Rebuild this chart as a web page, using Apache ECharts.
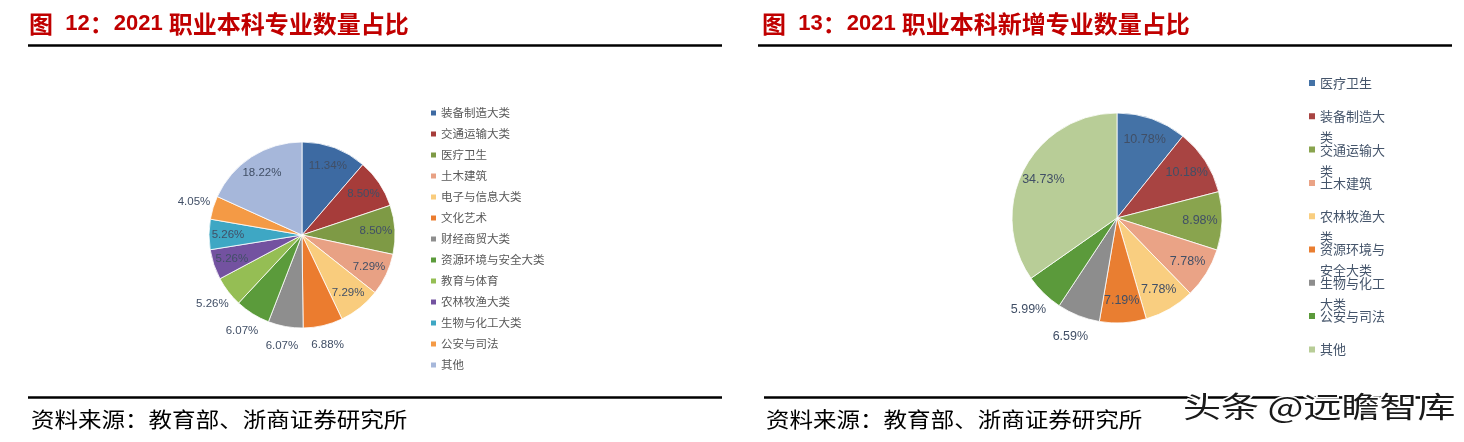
<!DOCTYPE html>
<html>
<head>
<meta charset="utf-8">
<script src="https://cdn.jsdelivr.net/npm/echarts@6/dist/echarts.min.js"></script>
<style>
html,body{margin:0;padding:0;background:#fff;}
#chart{width:1464px;height:442px;}
</style>
</head>
<body>
<div id="chart"></div>
<script>
// ---- data ----
const leftTitle = '2021 职业本科专业数量占比';
const rightTitle = '2021 职业本科新增专业数量占比';
const sourceText = '资料来源：教育部、浙商证券研究所';
const watermarkText = '头条 @远瞻智库';

const leftCategories = ['装备制造大类','交通运输大类','医疗卫生','土木建筑','电子与信息大类','文化艺术','财经商贸大类','资源环境与安全大类','教育与体育','农林牧渔大类','生物与化工大类','公安与司法','其他'];
const leftValues = [11.34, 8.50, 8.50, 7.29, 7.29, 6.88, 6.07, 6.07, 5.26, 5.26, 5.26, 4.05, 18.22];

const rightCategories = ['医疗卫生','装备制造大类','交通运输大类','土木建筑','农林牧渔大类','资源环境与安全大类','生物与化工大类','公安与司法','其他'];
const rightValues = [10.78, 10.18, 8.98, 7.78, 7.78, 7.19, 6.59, 5.99, 34.73];

// ---- styles ----
const leftColors = ['#3D6AA2','#A63C3A','#7E9A45','#E8A184','#F9CC7D','#EB7C2F','#8E8E8E','#5B9B3B','#95BE54','#7352A0','#3EA7C4','#F49A45','#A6B7DA'];
const rightColors = ['#4472A6','#A84442','#89A44E','#EAA386','#F9CE80','#E97E31','#8D8D8D','#5B9A3B','#B8CD97'];
const leftOutside = new Set([5, 6, 7, 8, 11]);
const rightOutside = new Set([6, 7]);
const RIGHT_WRAP = 5; // characters per line in the narrow right legend

const labelColor = '#414F66';
const fmt = p => p.value.toFixed(2) + '%';

function mainPie(cats, vals, colors, center, r) {
  return {
    type: 'pie', center: center, radius: [0, r], startAngle: 90, clockwise: true,
    silent: true, animation: false, avoidLabelOverlap: false,
    label: { show: false }, labelLine: { show: false },
    itemStyle: { borderColor: '#fff', borderWidth: 0.8 },
    data: cats.map((n, i) => ({ name: n, value: vals[i], itemStyle: { color: colors[i] } }))
  };
}
function labelPie(cats, vals, center, r0, r1, showFn, fontSize) {
  return {
    type: 'pie', center: center, radius: [r0, r1], startAngle: 90, clockwise: true,
    silent: true, animation: false, avoidLabelOverlap: false,
    itemStyle: { color: 'rgba(0,0,0,0)', borderWidth: 0 },
    labelLine: { show: false },
    emphasis: { disabled: true },
    label: { position: 'inside', formatter: fmt, color: labelColor, fontSize: fontSize,
             fontFamily: 'Liberation Sans, Arial, sans-serif' },
    data: cats.map((n, i) => ({ name: n, value: vals[i], label: { show: showFn(i) } }))
  };
}

const LC = [302, 235], LR = 93;
const RC = [1117, 218], RR = 105;

// right legend: each entry is a fixed 44px box (two 21px text lines centred in it),
// the square marker sits beside the first line, entries step 33.3px.
const R_BOX = 44, R_LINEH = 21, R_STEP = 33.3;
const sqTop = R_BOX / 2 - R_LINEH / 2 - 3;
const rightIcon = 'path://M0,0L0.01,0M0,' + sqTop + 'L6,' + sqTop + 'L6,' + (sqTop + 6) + 'L0,' + (sqTop + 6) + 'ZM0,' + R_BOX + 'L0.01,' + R_BOX;

const option = {
  backgroundColor: '#fff',
  animation: false,
  legend: [
    {
      orient: 'vertical', left: 431, top: 106, padding: 0, itemGap: 7,
      icon: 'rect', itemWidth: 5, itemHeight: 5, selectedMode: false,
      textStyle: { fontSize: 11.5, color: '#595959', fontFamily: 'Noto Sans CJK SC', lineHeight: 14 },
      data: leftCategories.map((n, i) => ({ name: n, itemStyle: { color: leftColors[i], borderWidth: 0 } }))
    },
    {
      orient: 'vertical', left: 1309, top: 83 - (sqTop + 3), height: 390, padding: 0, itemGap: R_STEP - R_BOX,
      icon: rightIcon, itemWidth: 6, itemHeight: R_BOX, selectedMode: false,
      formatter: function (name) {
        return name.length > RIGHT_WRAP ? name.slice(0, RIGHT_WRAP) + '\n' + name.slice(RIGHT_WRAP) : name + '\n';
      },
      textStyle: { fontSize: 13, color: '#44546A', fontFamily: 'Noto Sans CJK SC', lineHeight: R_LINEH },
      data: rightCategories.map((n, i) => ({ name: n, itemStyle: { color: rightColors[i], borderWidth: 0 } }))
    }
  ],
  series: [
    mainPie(leftCategories, leftValues, leftColors, LC, LR),
    mainPie(rightCategories, rightValues, rightColors, RC, RR),
    labelPie(leftCategories, leftValues, LC, 49, LR, i => !leftOutside.has(i), 11.5),
    labelPie(leftCategories, leftValues, LC, LR, 127, i => leftOutside.has(i), 11.5),
    labelPie(rightCategories, rightValues, RC, 55, RR, i => !rightOutside.has(i), 12.5),
    labelPie(rightCategories, rightValues, RC, RR, 143, i => rightOutside.has(i), 12.5)
  ],
  graphic: [
    { type: 'text', x: 29, y: 24, style: {
        text: '{c|图}{n|  12}{c|：}{n|' + leftTitle.split(' ')[0] + ' }{c|' + leftTitle.split(' ')[1] + '}',
        verticalAlign: 'middle',
        rich: {
          c: { fontFamily: 'Noto Sans CJK SC', fontSize: 24, fontWeight: 'bold', fill: '#C00000' },
          n: { fontFamily: 'Liberation Sans', fontSize: 22, fontWeight: 'bold', fill: '#C00000' }
        } } },
    { type: 'text', x: 762, y: 24, style: {
        text: '{c|图}{n|  13}{c|：}{n|' + rightTitle.split(' ')[0] + ' }{c|' + rightTitle.split(' ')[1] + '}',
        verticalAlign: 'middle',
        rich: {
          c: { fontFamily: 'Noto Sans CJK SC', fontSize: 24, fontWeight: 'bold', fill: '#C00000' },
          n: { fontFamily: 'Liberation Sans', fontSize: 22, fontWeight: 'bold', fill: '#C00000' }
        } } },
    { type: 'line', shape: { x1: 28, y1: 45.5, x2: 722, y2: 45.5 }, style: { stroke: '#000', lineWidth: 2.5 } },
    { type: 'line', shape: { x1: 758, y1: 45.5, x2: 1452, y2: 45.5 }, style: { stroke: '#000', lineWidth: 2.5 } },
    { type: 'line', shape: { x1: 28, y1: 397.5, x2: 722, y2: 397.5 }, style: { stroke: '#000', lineWidth: 2.5 } },
    { type: 'line', shape: { x1: 764, y1: 397.5, x2: 1455, y2: 397.5 }, style: { stroke: '#000', lineWidth: 2.5 } },
    { type: 'text', x: 31, y: 419, scaleX: 1.12, style: { text: sourceText, fontFamily: 'Noto Sans CJK SC', fontSize: 21, fill: '#000', verticalAlign: 'middle' } },
    { type: 'text', x: 766, y: 419, scaleX: 1.12, style: { text: sourceText, fontFamily: 'Noto Sans CJK SC', fontSize: 21, fill: '#000', verticalAlign: 'middle' } },
    { type: 'text', x: 1183, y: 407, scaleX: 1.31, z: 10, style: { text: watermarkText, fontFamily: 'Noto Sans CJK SC', fontSize: 29, fill: '#1a1a1a', stroke: '#fff', lineWidth: 3, strokeFirst: true, verticalAlign: 'middle' } }
  ]
};

const chart = echarts.init(document.getElementById('chart'), null, { renderer: 'canvas' });
chart.setOption(option);
</script>
</body>
</html>
